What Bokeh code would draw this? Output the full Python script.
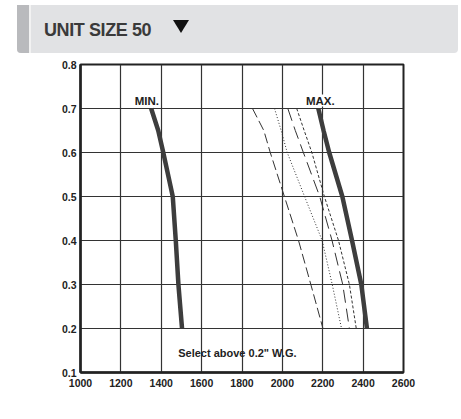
import math
from bokeh.plotting import figure
from bokeh.models import Range1d, FixedTicker, Label, Div, ColumnDataSource
from bokeh.layouts import column
from bokeh.embed import file_html
from bokeh.resources import INLINE

# ---- data ----
title_text = "UNIT SIZE 50"
x_ticks = [1000, 1200, 1400, 1600, 1800, 2000, 2200, 2400, 2600]
y_ticks = [0.1, 0.2, 0.3, 0.4, 0.5, 0.6, 0.7, 0.8]
pressure = [0.70, 0.65, 0.60, 0.50, 0.40, 0.30, 0.20]
min_cfm = [1350, 1385, 1410, 1457, 1472, 1485, 1503]
line1_cfm = [1852, 1908, 1940, 2010, 2080, 2141, 2201]
line2_cfm = [1961, 1994, 2024, 2110, 2197, 2247, 2293]
line3_cfm = [2027, 2064, 2104, 2185, 2246, 2299, 2332]
line4_cfm = [2071, 2108, 2146, 2208, 2278, 2332, 2366]
max_cfm = [2178, 2204, 2232, 2297, 2345, 2391, 2419]

FONT = "'Liberation Sans', Arial, sans-serif"
BFONT = "Liberation Sans"

header_html = f"""
<div style="position:relative; margin-left:12px; width:441px; height:48px; background:#e1e2e4; border-radius:0 0 4px 4px;">
  <div style="position:absolute; left:0; top:0; width:12px; height:48px; background:#b9babd; border-radius:0 0 0 4px;"></div>
  <div style="position:absolute; left:12px; top:0; width:2px; height:48px; background:#f2f2f2;"></div>
  <span style="position:absolute; left:27px; top:16px; line-height:1; font-family:{FONT}; font-weight:bold; font-size:18px; letter-spacing:-0.4px; color:#3a3a3a; white-space:nowrap;">{title_text}</span>
  <div style="position:absolute; left:156px; top:15px; width:0; height:0; border-left:8px solid transparent; border-right:8px solid transparent; border-top:13px solid #111;"></div>
</div>
"""
header = Div(text=header_html, width=453, height=48)

p = figure(output_backend="svg", toolbar_location=None,
           x_range=Range1d(1000, 2600), y_range=Range1d(0.1, 0.8),
           frame_width=323, frame_height=308,
           min_border_left=80, min_border_right=30,
           min_border_top=6, min_border_bottom=37,
           background_fill_color="white", border_fill_color="white")

p.outline_line_color = "#222222"
p.outline_line_width = 2

for ax in (p.xaxis[0], p.yaxis[0]):
    ax.major_tick_line_color = None
    ax.minor_tick_line_color = None
    ax.major_tick_out = 0
    ax.major_tick_in = 0
    ax.axis_line_color = "#222222"
    ax.axis_line_width = 2.5
    ax.major_label_text_font = BFONT
    ax.major_label_text_font_style = "bold"
    ax.major_label_text_font_size = "10.5px"
    ax.major_label_text_color = "#222222"

p.xaxis[0].ticker = FixedTicker(ticks=x_ticks)
p.yaxis[0].ticker = FixedTicker(ticks=y_ticks)
p.xaxis[0].major_label_standoff = 6
p.yaxis[0].major_label_standoff = 4

p.xgrid.ticker = FixedTicker(ticks=x_ticks)
p.ygrid.ticker = FixedTicker(ticks=y_ticks)
for g in (p.xgrid[0], p.ygrid[0]):
    g.grid_line_color = "#333333"
    g.grid_line_width = 1.2

src = ColumnDataSource(dict(p=pressure, mn=min_cfm, l1=line1_cfm, l2=line2_cfm,
                            l3=line3_cfm, l4=line4_cfm, mx=max_cfm))

p.line("l1", "p", source=src, line_color="#333333", line_width=1, line_dash="10 4")
p.line("l2", "p", source=src, line_color="#333333", line_width=1, line_dash="1 2")
p.line("l3", "p", source=src, line_color="#333333", line_width=1, line_dash="13 6")
p.line("l4", "p", source=src, line_color="#333333", line_width=1, line_dash="3 2")
p.line("mn", "p", source=src, line_color="#3d3d3d", line_width=4.5)
p.line("mx", "p", source=src, line_color="#3d3d3d", line_width=4.5)

common = dict(text_font=BFONT, text_font_style="bold", text_color="#222222")
p.add_layout(Label(x=1329, y=0.7, y_offset=2, text="MIN.", text_align="center",
                   text_baseline="bottom", text_font_size="11.5px",
                   background_fill_color="white", **common))
p.add_layout(Label(x=2188, y=0.7, y_offset=2, text="MAX.", text_align="center",
                   text_baseline="bottom", text_font_size="11.5px",
                   background_fill_color="white", **common))
p.add_layout(Label(x=1777, y=0.145, text='Select above 0.2" W.G.', text_align="center",
                   text_baseline="middle", text_font_size="11px", **common))
p.add_layout(Label(x=1842, y=0.1, y_offset=-26, text="Air Flow Rate, CFM", text_align="center",
                   text_baseline="middle", text_font_size="10px", **common))
p.add_layout(Label(x=1000, x_offset=-28, y=0.47, text="Static Pressure, Inches W.G.",
                   angle=math.pi / 2, text_align="center", text_baseline="middle",
                   text_font_size="10px", **common))

layout = column(header, p, spacing=0)
open("out.html", "w").write(file_html(layout, INLINE))
